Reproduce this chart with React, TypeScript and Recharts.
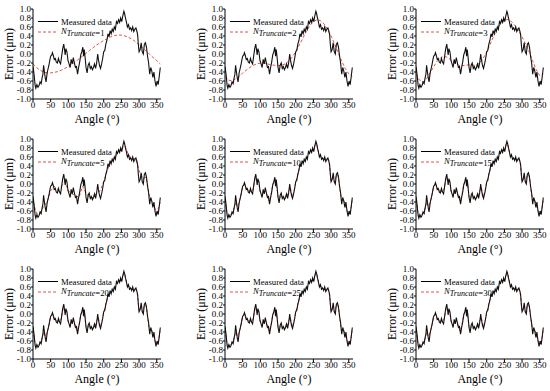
import React from "react";
import { LineChart, Line, XAxis, YAxis, Legend } from "recharts";

const angles = [
  0, 3, 6, 8, 11, 14, 17, 20, 23, 26, 28, 30, 32, 35, 37, 40, 42, 45, 48, 50,
  53, 55, 58, 60, 63, 66, 69, 72, 75, 78, 81, 84, 87, 89, 91, 93, 96, 99, 102, 105,
  108, 111, 114, 117, 120, 123, 126, 129, 132, 135, 138, 141, 143, 145, 147, 150, 153, 156, 159, 162,
  165, 168, 171, 174, 177, 180, 183, 185, 188, 191, 194, 197, 200, 203, 206, 209, 212, 215, 218, 221,
  224, 227, 230, 233, 236, 239, 242, 245, 248, 251, 254, 257, 259, 261, 264, 267, 270, 273, 276, 279,
  282, 285, 288, 291, 294, 296, 298, 300, 303, 306, 309, 312, 315, 318, 321, 324, 327, 330, 333, 336,
  339, 342, 345, 348, 351, 354, 357, 360,
];
const measured = [
  -0.28, -0.45, -0.7, -0.76, -0.68, -0.74, -0.7, -0.62, -0.66, -0.52, -0.45, -0.25, -0.38, -0.55, -0.62, -0.42, -0.35, -0.25, -0.12, -0.05,
  -0.02, 0.03, -0.05, -0.12, -0.1, -0.18, -0.2, -0.1, -0.18, -0.22, -0.05, 0.12, 0.22, 0.1, -0.02, 0.12, 0.05, -0.15, -0.22, -0.3,
  -0.12, -0.22, -0.08, -0.2, -0.3, -0.28, -0.45, -0.3, -0.18, -0.02, 0.05, 0.15, -0.05, 0.1, -0.05, -0.3, -0.42, -0.25, -0.2, -0.32,
  -0.28, -0.35, -0.3, -0.22, -0.32, -0.2, 0.0, -0.12, -0.25, -0.32, -0.22, -0.1, 0.05, 0.08, 0.22, 0.3, 0.45, 0.38, 0.52, 0.45,
  0.55, 0.5, 0.6, 0.55, 0.72, 0.68, 0.76, 0.7, 0.8, 0.72, 0.85, 0.95, 0.9, 0.82, 0.72, 0.6, 0.65, 0.55, 0.58, 0.52,
  0.6, 0.5, 0.55, 0.58, 0.5, 0.42, 0.2, 0.05, 0.1, 0.25, 0.05, 0.0, 0.22, 0.25, 0.15, -0.05, -0.2, -0.45, -0.3, -0.38,
  -0.52, -0.4, -0.6, -0.72, -0.6, -0.68, -0.5, -0.3,
];

const coarseAngles = [
  0, 10, 20, 30, 40, 50, 60, 70, 80, 90, 100, 110, 120, 130, 140, 150, 160, 170, 180,
  190, 200, 210, 220, 230, 240, 250, 260, 270, 280, 290, 300, 310, 320, 330, 340, 350, 360,
];
const fit1 = [
  -0.22, -0.3, -0.36, -0.4, -0.42, -0.42, -0.41, -0.39, -0.36, -0.32, -0.28, -0.23, -0.17, -0.11, -0.05, 0.02, 0.08, 0.14, 0.2,
  0.25, 0.3, 0.34, 0.38, 0.41, 0.42, 0.42, 0.4, 0.37, 0.33, 0.27, 0.21, 0.14, 0.07, -0.01, -0.08, -0.15, -0.22,
];
const fit2 = [
  -0.5, -0.58, -0.6, -0.55, -0.5, -0.42, -0.36, -0.3, -0.25, -0.22, -0.2, -0.2, -0.22, -0.24, -0.25, -0.26, -0.25, -0.22, -0.16,
  -0.07, 0.05, 0.2, 0.35, 0.5, 0.63, 0.72, 0.76, 0.74, 0.67, 0.55, 0.4, 0.22, 0.03, -0.16, -0.32, -0.44, -0.5,
];
const fit3 = [
  -0.45, -0.58, -0.62, -0.55, -0.42, -0.28, -0.16, -0.08, -0.05, -0.08, -0.14, -0.2, -0.25, -0.26, -0.25, -0.24, -0.25, -0.25, -0.2,
  -0.1, 0.05, 0.22, 0.4, 0.56, 0.68, 0.75, 0.77, 0.72, 0.63, 0.52, 0.38, 0.22, 0.05, -0.15, -0.35, -0.48, -0.45,
];
const fit5 = [
  -0.4, -0.65, -0.65, -0.5, -0.4, -0.15, -0.05, -0.12, -0.05, 0.05, -0.15, -0.22, -0.25, -0.3, -0.05, -0.2, -0.3, -0.3, -0.2,
  -0.15, 0.05, 0.3, 0.5, 0.58, 0.7, 0.78, 0.85, 0.65, 0.56, 0.56, 0.3, 0.12, 0.15, -0.3, -0.45, -0.65, -0.4,
];

const fineAngles = [
  0, 5, 10, 15, 20, 25, 30, 35, 40, 45, 50, 55, 60, 65, 70, 75, 80, 85, 90, 95, 100, 105, 110, 115, 120,
  125, 130, 135, 140, 145, 150, 155, 160, 165, 170, 175, 180, 185, 190, 195, 200, 205, 210, 215, 220, 225, 230, 235, 240,
  245, 250, 255, 260, 265, 270, 275, 280, 285, 290, 295, 300, 305, 310, 315, 320, 325, 330, 335, 340, 345, 350, 355, 360,
];
const fitFine = [
  -0.35, -0.62, -0.72, -0.7, -0.64, -0.56, -0.4, -0.5, -0.42, -0.25, -0.07, 0.0, -0.1, -0.15, -0.16, -0.17, -0.1, 0.12, 0.08, 0.05, -0.18, -0.25, -0.18, -0.15, -0.28,
  -0.38, -0.25, -0.02, 0.08, 0.04, -0.28, -0.32, -0.25, -0.3, -0.32, -0.27, -0.15, -0.08, -0.28, -0.18, 0.04, 0.18, 0.35, 0.42, 0.48, 0.52, 0.56, 0.66, 0.72,
  0.74, 0.76, 0.88, 0.88, 0.68, 0.62, 0.57, 0.55, 0.54, 0.56, 0.46, 0.08, 0.15, 0.04, 0.2, 0.2, -0.12, -0.38, -0.35, -0.45, -0.58, -0.66, -0.6, -0.35,
];

const truncations = ["1", "2", "3", "5", "10", "15", "20", "25", "30"];
const fitAnglesByPanel = [coarseAngles, coarseAngles, coarseAngles, coarseAngles, fineAngles, fineAngles, fineAngles, fineAngles, fineAngles];
const fitValuesByPanel = [fit1, fit2, fit3, fit5, fitFine, fitFine, fitFine, fitFine, fitFine];

const xTicks = [0, 50, 100, 150, 200, 250, 300, 350];
const yTicks = [-1, -0.8, -0.6, -0.4, -0.2, 0, 0.2, 0.4, 0.6, 0.8, 1];

const FONT = "'Liberation Serif', 'Times New Roman', serif";
const RED = "#e5533f";

const measuredData = angles.map((a, i) => ({ angle: a, v: measured[i] }));

const LegendBox = ({ n }: { n: string }) => (
  <svg width={120} height={26} style={{ display: "block", overflow: "visible" }}>
    <line x1={2} x2={22} y1={7.5} y2={7.5} stroke="#000" strokeWidth={1} />
    <text x={25} y={10.5} fontSize={8.7} fontFamily={FONT} fill="#000">
      Measured data
    </text>
    <line x1={2} x2={22} y1={18} y2={18} stroke={RED} strokeWidth={1} strokeDasharray="3 2" />
    <text x={25} y={19.5} fontSize={8.7} fontFamily={FONT} fill="#000">
      <tspan fontStyle="italic">N</tspan>
      <tspan fontStyle="italic" fontSize={8} dy={2}>Truncate</tspan>
      <tspan>={n}</tspan>
    </text>
  </svg>
);

const Panel = ({ idx }: { idx: number }) => {
  const n = truncations[idx];
  const fitData = fitAnglesByPanel[idx].map((a, i) => ({ angle: a, v: fitValuesByPanel[idx][i] }));
  const tickStyle = { fontSize: 9, fill: "#000", fontFamily: FONT };
  return (
    <LineChart width={185} height={130} margin={{ top: 9, right: 24, bottom: 0, left: 0 }}>
      <XAxis
        type="number"
        dataKey="angle"
        domain={[0, 362]}
        allowDataOverflow
        ticks={xTicks}
        interval={0}
        tick={tickStyle}
        tickSize={3}
        tickMargin={0}
        height={31}
        stroke="#000"
        label={{
          content: () => (
            <text x={97} y={123} textAnchor="middle" fontSize={12} fontFamily={FONT} fill="#000">
              Angle (°)
            </text>
          ),
        }}
      />
      <XAxis xAxisId="top" orientation="top" type="number" domain={[0, 362]} allowDataOverflow height={0} tick={false} tickLine={false} stroke="#000" />
      <YAxis
        type="number"
        domain={[-1, 1]}
        allowDataOverflow
        ticks={yTicks}
        interval={0}
        tickFormatter={(v: number) => v.toFixed(1)}
        tick={tickStyle}
        tickSize={2}
        tickMargin={0}
        width={33}
        stroke="#000"
        label={{
          content: () => (
            <text
              x={9}
              y={54}
              transform="rotate(-90 9 54)"
              textAnchor="middle"
              dominantBaseline="central"
              fontSize={12}
              fontFamily={FONT}
              fill="#000"
            >
              Error (μm)
            </text>
          ),
        }}
      />
      <YAxis yAxisId="right" orientation="right" type="number" domain={[-1, 1]} allowDataOverflow width={0} tick={false} tickLine={false} stroke="#000" />
      <Legend
        layout="horizontal"
        verticalAlign="middle"
        align="center"
        wrapperStyle={{ left: 36, top: 14, width: 120, height: 26 }}
        content={() => <LegendBox n={n} />}
      />
      <Line data={fitData} dataKey="v" type="linear" stroke={RED} strokeWidth={1} strokeDasharray="3 2" dot={false} isAnimationActive={false} />
      <Line data={measuredData} dataKey="v" type="linear" stroke="#111" strokeWidth={1.1} dot={false} isAnimationActive={false} />
    </LineChart>
  );
};

export default function App() {
  return (
    <div style={{ position: "absolute", left: 0, top: 0, width: 550, height: 391, background: "#fff" }}>
      {truncations.map((_, i) => (
        <div key={i} style={{ position: "absolute", left: (i % 3) * 191.5, top: Math.floor(i / 3) * 130 }}>
          <Panel idx={i} />
        </div>
      ))}
    </div>
  );
}
